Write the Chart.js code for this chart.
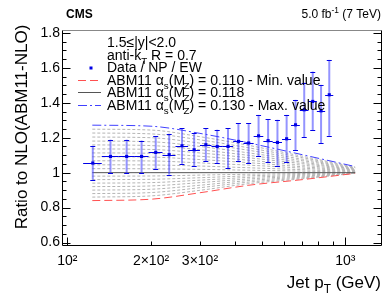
<!DOCTYPE html>
<html><head><meta charset="utf-8">
<script src="https://cdn.jsdelivr.net/npm/chart.js@4/dist/chart.umd.min.js"></script>
<style>html,body{margin:0;padding:0;background:#fff}canvas{display:block}</style>
</head><body>
<canvas id="c" width="390" height="302" style="width:390px;height:302px"></canvas>
<script>
// ---- data ----
const binLow  = [114,133,153,174,196,220,245,272,300,330,362,395,430,468,507,548,592,638,686,737,790,846];
const binHigh = [133,153,174,196,220,245,272,300,330,362,395,430,468,507,548,592,638,686,737,790,846,905];
const ptCenter = [123.5,143,163.5,185,208,232.5,258.5,286,315,346,378.5,412.5,449,487.5,527.5,570,615,662,711.5,763.5,818,875.5];
const ratio   = [1.055,1.093,1.093,1.093,1.116,1.103,1.154,1.131,1.160,1.150,1.150,1.179,1.170,1.211,1.183,1.173,1.194,1.274,1.360,1.408,1.354,1.446];
const errHigh = [1.154,1.189,1.189,1.184,1.208,1.223,1.255,1.227,1.255,1.246,1.255,1.284,1.284,1.331,1.307,1.303,1.331,1.417,1.516,1.579,1.503,1.646];
const errLow  = [0.960,0.998,0.998,0.998,1.021,0.989,1.051,1.040,1.065,1.055,1.027,1.065,1.055,1.093,1.059,1.040,1.059,1.127,1.204,1.242,1.170,1.211];

const theoryPt = [123,200,300,450,700,1085];
const alphaS = [0.110,0.111,0.112,0.113,0.114,0.115,0.116,0.117,0.118,0.119,0.120,0.121,0.122,0.123,0.124,0.125,0.126,0.127,0.128,0.129,0.130];
const theoryRatio = [
  [0.840,0.848,0.885,0.928,0.960,0.996],
  [0.860,0.867,0.899,0.937,0.965,0.997],
  [0.880,0.886,0.914,0.946,0.970,0.997],
  [0.900,0.905,0.928,0.955,0.975,0.998],
  [0.920,0.924,0.943,0.964,0.980,0.998],
  [0.940,0.943,0.957,0.973,0.985,0.999],
  [0.960,0.962,0.971,0.982,0.990,0.999],
  [0.980,0.981,0.986,0.991,0.995,1.000],
  [1.000,1.000,1.000,1.000,1.000,1.000],
  [1.023,1.022,1.019,1.014,1.009,1.003],
  [1.045,1.044,1.038,1.028,1.017,1.006],
  [1.068,1.067,1.056,1.043,1.026,1.009],
  [1.091,1.089,1.075,1.057,1.034,1.012],
  [1.113,1.111,1.094,1.071,1.043,1.015],
  [1.136,1.133,1.113,1.085,1.052,1.018],
  [1.159,1.155,1.131,1.099,1.060,1.020],
  [1.181,1.177,1.150,1.113,1.069,1.023],
  [1.204,1.200,1.169,1.128,1.077,1.026],
  [1.227,1.222,1.188,1.142,1.086,1.029],
  [1.249,1.244,1.206,1.156,1.094,1.032],
  [1.272,1.266,1.225,1.170,1.103,1.035]
];

const yTicks = [0.6,0.8,1,1.2,1.4,1.6,1.8];
const yTickLabels = ['0.6','0.8','1','1.2','1.4','1.6','1.8'];
const xTicks = [100,200,300,1000];
const xTickLabels = ['10\u00B2','2\u00D710\u00B2','3\u00D710\u00B2','10\u00B3'];

const FONT = '"Liberation Sans", Arial, Helvetica, sans-serif';
const BLUE = '#0000e6';
const RED = '#ff5050';
const BLUE_LINE = '#4040ff';
const GRAY = '#b4b4b4';
const CENTRAL = '#555555';

// ---- datasets ----
const datasets = [];
datasets.push({
  type:'scatter', label:'Data / NP / EW',
  data: ptCenter.map((x,i)=>({x:x,y:ratio[i]})),
  pointStyle:'rect', pointRadius:2.2, pointBackgroundColor:BLUE, pointBorderColor:BLUE, pointBorderWidth:0,
  order:0
});
alphaS.forEach((a,i)=>{
  let color=GRAY, dash=[3,2], order=3, w=1;
  if (i===0){color=RED; dash=[8,4]; order=2;}
  else if (i===alphaS.length-1){color=BLUE_LINE; dash=[9,3,2,3]; order=2;}
  else if (Math.abs(a-0.118)<1e-6){color=CENTRAL; dash=[]; order=1;}
  datasets.push({
    type:'line', label:'ABM11 '+a.toFixed(3),
    data: theoryPt.map((x,j)=>({x:x,y:theoryRatio[i][j]})),
    borderColor:color, borderDash:dash, borderWidth:w, pointRadius:0,
    cubicInterpolationMode:'monotone', fill:false, order:order
  });
});

// ---- helpers ----
function richText(ctx, x, y, parts, size){
  let cx = x;
  parts.forEach(p=>{
    const s = p.sub||p.sup ? size*0.7 : size;
    ctx.font = (p.bold?'bold ':'') + s + 'px ' + FONT;
    const dy = p.sub ? size*0.3 : (p.sup ? -size*0.4 : 0);
    ctx.fillText(p.t, cx + (p.dx||0), y + dy);
    cx += ctx.measureText(p.t).width + (p.dx||0);
  });
  return cx;
}
function richWidth(ctx, parts, size){
  let w=0;
  parts.forEach(p=>{
    const s = p.sub||p.sup ? size*0.7 : size;
    ctx.font = (p.bold?'bold ':'') + s + 'px ' + FONT;
    w += ctx.measureText(p.t).width + (p.dx||0);
  });
  return w;
}

const errPlugin = {
  id:'errbars',
  beforeDatasetDraw(chart, args){
    if (args.index!==0) return;
    const ctx=chart.ctx, xs=chart.scales.x, ys=chart.scales.y;
    ctx.save();
    for (let i=0;i<ptCenter.length;i++){
      const px = xs.getPixelForValue(ptCenter[i]);
      const py = ys.getPixelForValue(ratio[i]);
      const yh = ys.getPixelForValue(errHigh[i]);
      const yl = ys.getPixelForValue(errLow[i]);
      ctx.strokeStyle='rgba(60,60,255,0.55)'; ctx.lineWidth=2;
      ctx.beginPath(); ctx.moveTo(px,yh); ctx.lineTo(px,yl); ctx.stroke();
      ctx.strokeStyle=BLUE; ctx.lineWidth=1;
      ctx.beginPath();
      ctx.moveTo(px-2.5,Math.round(yh)+0.5); ctx.lineTo(px+2.5,Math.round(yh)+0.5);
      ctx.moveTo(px-2.5,Math.round(yl)+0.5); ctx.lineTo(px+2.5,Math.round(yl)+0.5);
      ctx.moveTo(xs.getPixelForValue(binLow[i]),Math.round(py)+0.5);
      ctx.lineTo(xs.getPixelForValue(binHigh[i]),Math.round(py)+0.5);
      ctx.stroke();
    }
    ctx.restore();
  }
};

const framePlugin = {
  id:'frame',
  afterDraw(chart){
    const ctx=chart.ctx, a=chart.chartArea, xs=chart.scales.x, ys=chart.scales.y;
    const L=Math.round(a.left)+0.5, R=Math.round(a.right)-0.5, T=Math.round(a.top)+0.5, B=Math.round(a.bottom)-0.5;
    ctx.save();
    ctx.lineWidth=1;
    ctx.strokeStyle='#888';
    ctx.beginPath(); ctx.moveTo(L,T); ctx.lineTo(R,T); ctx.stroke();
    ctx.strokeStyle='#000';
    ctx.beginPath(); ctx.moveTo(L,T); ctx.lineTo(L,B); ctx.lineTo(R,B); ctx.lineTo(R,T); ctx.stroke();
    ctx.beginPath();
    for (let k=0;k<=24;k++){
      const v = 0.6 + k*0.05;
      const py = Math.round(ys.getPixelForValue(v))+0.5;
      const len = (k%4===0)?8:4;
      ctx.moveTo(L,py); ctx.lineTo(L+len,py);
      ctx.moveTo(R,py); ctx.lineTo(R-len,py);
    }
    for (let d=1; d<=2; d++){
      for (let m=1;m<=9;m++){
        const v = m*Math.pow(10,d+1);
        if (v<xs.min || v>xs.max) continue;
        const px = Math.round(xs.getPixelForValue(v))+0.5;
        const len = (m===1)?8:4;
        ctx.moveTo(px,B); ctx.lineTo(px,B-len);
      }
    }
    ctx.stroke();

    // header
    ctx.fillStyle='#000';
    ctx.textBaseline='alphabetic';
    ctx.textAlign='left';
    ctx.font='bold 12px '+FONT;
    ctx.fillText('CMS', 66, 18);
    const lumi=[{t:'5.0 fb'},{t:'-1',sup:true},{t:' (7 TeV)'}];
    const lw = richWidth(ctx,lumi,12);
    richText(ctx, 381-lw, 18, lumi, 12);

    // y title
    ctx.save();
    ctx.translate(27,127);
    ctx.rotate(-Math.PI/2);
    ctx.textAlign='center';
    ctx.font='17px '+FONT;
    ctx.fillText('Ratio to NLO(ABM11-NLO)',0,0);
    ctx.restore();

    // x title
    const xt=[{t:'Jet p'},{t:'T',sub:true},{t:' (GeV)'}];
    const xw=richWidth(ctx,xt,17);
    ctx.textAlign='left';
    richText(ctx, 381-xw, 288, xt, 17);

    // in-plot labels
    const fs=14;
    ctx.font=fs+'px '+FONT;
    ctx.fillText('1.5\u2264|y|<2.0',107,47);
    richText(ctx,107,60,[{t:'anti-k'},{t:'T',sub:true},{t:' R = 0.7'}],fs);
    const ly=[72,85,97,110];
    ctx.fillStyle=BLUE;
    ctx.fillRect(89.5,ly[0]-5.5,3,3);
    ctx.fillStyle='#000';
    richText(ctx,107,ly[0],[{t:'Data / NP / EW'}],fs);
    const lines=[[RED,[8,4],'0.110 - Min. value'],[CENTRAL,[],'0.118'],[BLUE_LINE,[9,3,2,3],'0.130 - Max. value']];
    lines.forEach((l,i)=>{
      const yy=ly[i+1];
      ctx.save();
      ctx.strokeStyle=l[0]; ctx.setLineDash(l[1]); ctx.lineWidth=1;
      ctx.beginPath(); ctx.moveTo(78,yy-4.5); ctx.lineTo(101,yy-4.5); ctx.stroke();
      ctx.restore();
      ctx.fillStyle='#000';
      richText(ctx,107,yy,[{t:'ABM11 \u03B1'},{t:'s',sub:true},{t:'(M'},{t:'Z',sub:true,dx:-1.5},{t:') = '+l[2]}],fs);
    });
    ctx.restore();
  }
};

new Chart(document.getElementById('c'), {
  data:{datasets:datasets},
  options:{
    responsive:false, animation:false, devicePixelRatio:1,
    layout:{padding:{top:30,right:8,left:0,bottom:0}},
    plugins:{legend:{display:false}, tooltip:{enabled:false}},
    scales:{
      x:{
        type:'logarithmic', min:95.7, max:1355, position:'bottom',
        grid:{display:false, drawTicks:false}, border:{display:false},
        ticks:{color:'#000', font:{family:FONT,size:14}, padding:7, autoSkip:false, maxRotation:0,
               callback:(v,i)=>xTickLabels[i]},
        afterBuildTicks:s=>{s.ticks=xTicks.map(v=>({value:v}));},
        afterFit:s=>{s.height=56;}
      },
      y:{
        type:'linear', min:0.58, max:1.817,
        grid:{display:false, drawTicks:false}, border:{display:false},
        ticks:{color:'#000', font:{family:FONT,size:14}, padding:2,
               callback:(v,i)=>yTickLabels[i]},
        afterBuildTicks:s=>{s.ticks=yTicks.map(v=>({value:v}));},
        afterFit:s=>{s.width=62;}
      }
    }
  },
  plugins:[errPlugin, framePlugin]
});
</script>
</body></html>
